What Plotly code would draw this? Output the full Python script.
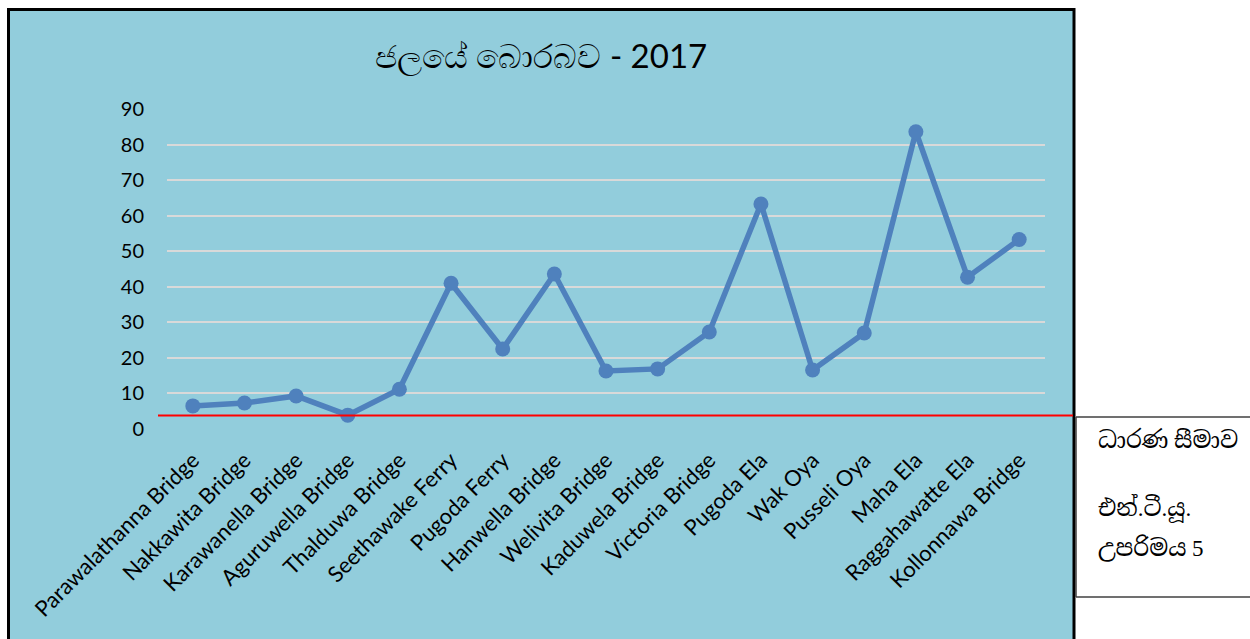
import plotly.graph_objects as go

categories = ["Parawalathanna Bridge", "Nakkawita Bridge", "Karawanella Bridge",
              "Aguruwella Bridge", "Thalduwa Bridge", "Seethawake Ferry", "Pugoda Ferry",
              "Hanwella Bridge", "Welivita Bridge", "Kaduwela Bridge", "Victoria Bridge",
              "Pugoda Ela", "Wak Oya", "Pusseli Oya", "Maha Ela", "Raggahawatte Ela",
              "Kollonnawa Bridge"]
turbidity = [6.5, 7.3, 9.3, 3.9, 11.2, 41.0, 22.5, 43.6, 16.3, 16.9, 27.3,
             63.3, 16.6, 27.0, 83.6, 42.7, 53.3]
threshold = 3.8
y_ticks = [0, 10, 20, 30, 40, 50, 60, 70, 80, 90]
title_text = "ජලයේ බොරබව - 2017"
legend_lines = ["ධාරණ සීමාව", "එන්.ටී.යූ.", "උපරිමය 5"]

W, H = 1250, 639
L, R, T, B = 167, 1045, 109, 429
pw, ph = R - L, B - T

def px(x):
    return (x - L) / pw

def py(y):
    return (B - y) / ph

bg = "#92CDDC"
font_main = "Lato, Carlito, Calibri, sans-serif"
font_box = "Liberation Serif, Noto Serif Sinhala, Noto Sans Sinhala, serif"

fig = go.Figure()
fig.add_trace(go.Scatter(
    x=categories, y=turbidity, mode="lines+markers",
    line=dict(color="#4F81BD", width=5.5),
    marker=dict(color="#4F81BD", size=15),
    showlegend=False, cliponaxis=False, hoverinfo="skip"))

shapes = [
    dict(type="rect", xref="paper", yref="paper", x0=px(8.5), x1=px(1074), y0=py(660), y1=py(9.5),
         fillcolor=bg, line=dict(color="black", width=3), layer="below"),
    dict(type="line", xref="paper", yref="y", x0=px(158), x1=px(1073), y0=threshold, y1=threshold,
         line=dict(color="#FF0000", width=2), layer="above"),
    dict(type="line", xref="paper", yref="paper", x0=px(1076), x1=px(1252), y0=py(417), y1=py(417),
         line=dict(color="#404040", width=1.5)),
    dict(type="line", xref="paper", yref="paper", x0=px(1076), x1=px(1252), y0=py(597), y1=py(597),
         line=dict(color="#404040", width=1.5)),
    dict(type="line", xref="paper", yref="paper", x0=px(1076), x1=px(1076), y0=py(417), y1=py(597),
         line=dict(color="#404040", width=1.5)),
]

box_y = [440, 508, 548]
annotations = [
    dict(text=t, xref="paper", yref="paper", x=px(1096), y=py(yy),
         xanchor="left", yanchor="middle", showarrow=False,
         font=dict(size=23, color="black", family=font_box))
    for t, yy in zip(legend_lines, box_y)
]
annotations.append(
    dict(text=title_text, xref="paper", yref="paper", x=px(541), y=py(55),
         xanchor="center", yanchor="middle", showarrow=False,
         font=dict(size=33, color="black", family=font_main)))

fig.update_layout(
    width=W, height=H,
    margin=dict(l=L, r=W - R, t=T, b=H - B, pad=0),
    paper_bgcolor="white", plot_bgcolor="rgba(0,0,0,0)",
    shapes=shapes, annotations=annotations,
    font=dict(family=font_main, size=20, color="black"),
    xaxis=dict(type="category", range=[-0.5, len(categories) - 0.5], showgrid=False,
               showline=False, zeroline=False, ticks="", tickangle=-45,
               tickfont=dict(size=22, family=font_main), ticklabelstandoff=13),
    yaxis=dict(range=[0, 90], tickvals=y_ticks, showgrid=True, gridcolor="#D9D9D9",
               gridwidth=2, zeroline=False, showline=False, ticks="",
               tickfont=dict(size=20, family=font_main), ticklabelstandoff=22),
)

fig.write_html("out.html", config={"displayModeBar": False, "staticPlot": True},
               post_script="document.body.style.margin='0';document.body.style.overflow='hidden';")
